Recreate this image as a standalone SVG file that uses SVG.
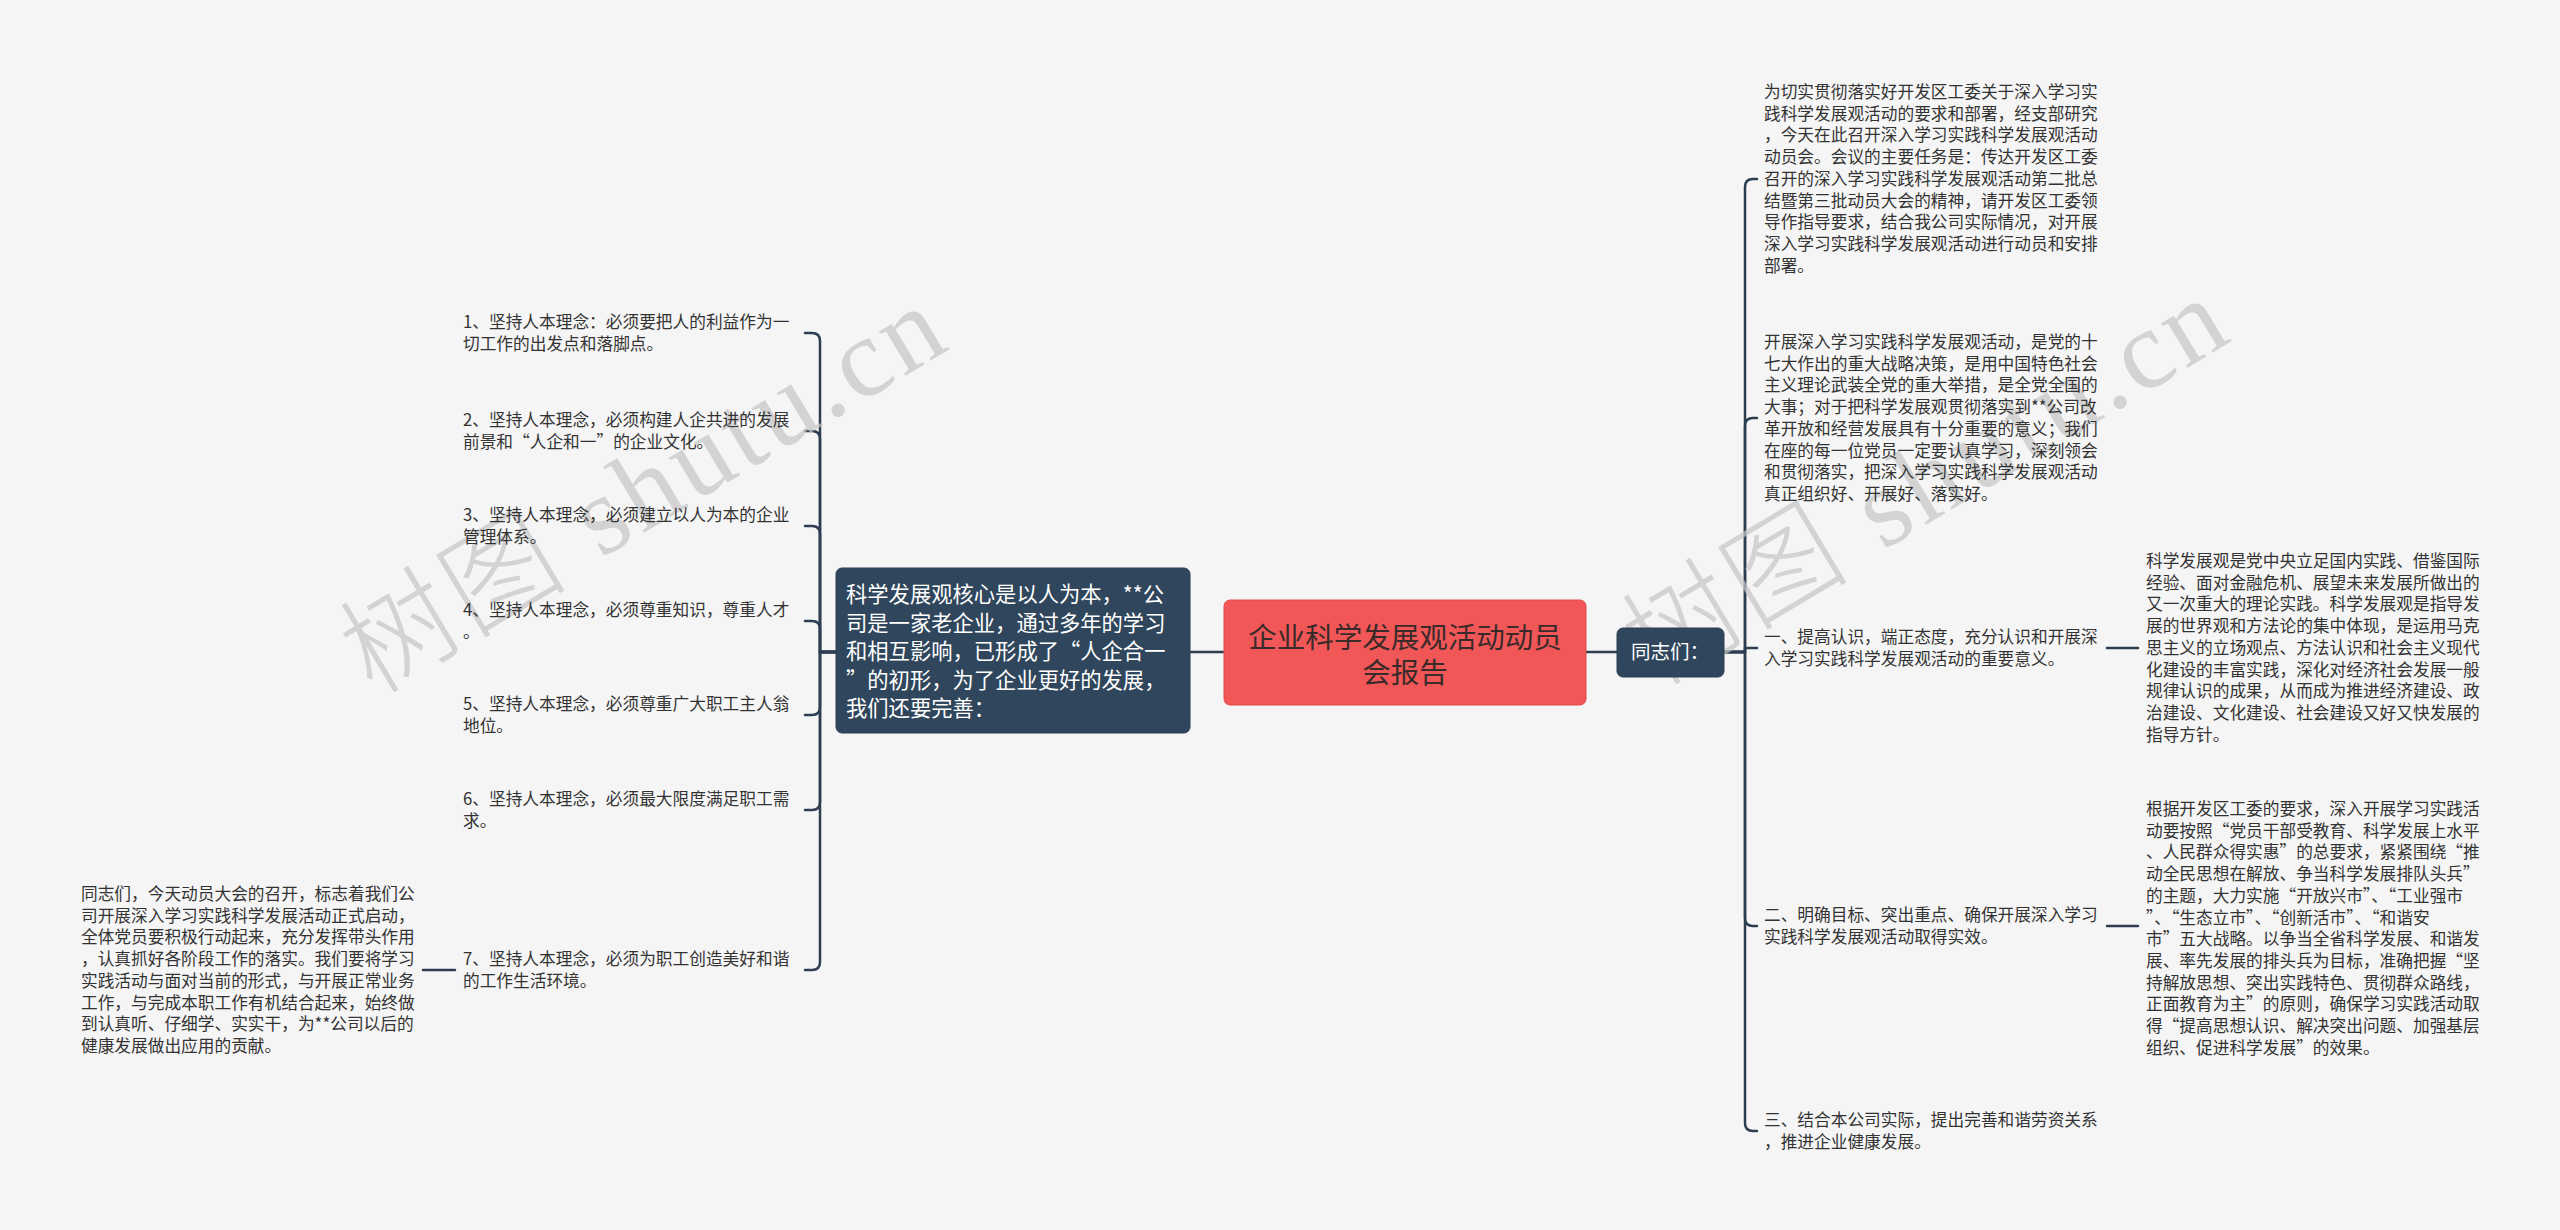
<svg xmlns="http://www.w3.org/2000/svg" width="2560" height="1230" viewBox="0 0 2560 1230">
<style>
.t{font-family:"Noto Sans CJK SC","Liberation Sans",sans-serif;font-size:16.7px;fill:#333333}
.w{font-family:"Noto Sans CJK SC","Liberation Sans",sans-serif;fill:#ffffff}
.dk{fill:#2f465c;stroke:#2a3f53;stroke-width:1}
.ln{fill:none;stroke:#2c3e50;stroke-width:2.5;stroke-linecap:round;stroke-linejoin:round}
.wm{font-family:"Liberation Serif","Noto Sans CJK SC",serif;font-size:112px;font-weight:300;fill:#c6c6c6;opacity:0.72}
</style>
<rect x="0" y="0" width="2560" height="1230" fill="#f5f5f5"/>

<g id="connectors">
<path class="ln" d="M1190 652 H1224"/>
<path class="ln" d="M1586 652 H1617"/>
<path class="ln" d="M836 652 H820 V341 Q820 333 812 333 H805"/>
<path class="ln" d="M836 652 H820 V439 Q820 431 812 431 H805"/>
<path class="ln" d="M836 652 H820 V534 Q820 526 812 526 H805"/>
<path class="ln" d="M836 652 H820 V629 Q820 621 812 621 H805"/>
<path class="ln" d="M836 652 H820 V707 Q820 715 812 715 H805"/>
<path class="ln" d="M836 652 H820 V802 Q820 810 812 810 H805"/>
<path class="ln" d="M836 652 H820 V962 Q820 970 812 970 H805"/>
<path class="ln" d="M455 970 H423"/>
<path class="ln" d="M1724 652 H1745 V187 Q1745 179 1753 179 H1757"/>
<path class="ln" d="M1724 652 H1745 V426 Q1745 418 1753 418 H1757"/>
<path class="ln" d="M1724 652 H1745 V648 H1757"/>
<path class="ln" d="M1724 652 H1745 V918 Q1745 926 1753 926 H1757"/>
<path class="ln" d="M1724 652 H1745 V1123 Q1745 1131 1753 1131 H1757"/>
<path class="ln" d="M2107 648 H2138"/>
<path class="ln" d="M2107 926 H2138"/>
</g>

<g id="watermarks">
<text class="wm" x="662" y="522" text-anchor="middle" transform="rotate(-31 662 522)" textLength="675">树图 shutu.cn</text>
<text class="wm" x="1944" y="514" text-anchor="middle" transform="rotate(-31 1944 514)" textLength="675">树图 shutu.cn</text>
</g>

<g id="root">
<rect x="1224" y="600" width="362" height="105" rx="6" fill="#f15757" stroke="#e24a4a" stroke-width="1"/>
<text x="1405" y="648" text-anchor="middle" style="font-family:'Noto Sans CJK SC','Liberation Sans',sans-serif;font-size:28.5px;fill:#3a2a2a">企业科学发展观活动动员</text>
<text x="1405" y="683" text-anchor="middle" style="font-family:'Noto Sans CJK SC','Liberation Sans',sans-serif;font-size:28.5px;fill:#3a2a2a">会报告</text>
</g>

<g id="node-left-main">
<rect class="dk" x="836" y="568" width="354" height="165" rx="6"/>
<text class="w" style="font-size:21.3px" x="846" y="602">科学发展观核心是以人为本，**公<tspan x="846" dy="28.5">司是一家老企业，通过多年的学习</tspan><tspan x="846" dy="28.5">和相互影响，已形成了“人企合一</tspan><tspan x="846" dy="28.5">”的初形，为了企业更好的发展，</tspan><tspan x="846" dy="28.5">我们还要完善：</tspan></text>
</g>

<g id="node-right-main">
<rect class="dk" x="1617" y="628" width="107" height="49" rx="6"/>
<text class="w" style="font-size:19.5px" x="1670" y="659" text-anchor="middle">同志们：</text>
</g>

<g id="item-l1"><text class="t" x="463" y="328">1、坚持人本理念：必须要把人的利益作为一<tspan x="463" dy="21.7">切工作的出发点和落脚点。</tspan></text></g>
<g id="item-l2"><text class="t" x="463" y="426">2、坚持人本理念，必须构建人企共进的发展<tspan x="463" dy="21.7">前景和“人企和一”的企业文化。</tspan></text></g>
<g id="item-l3"><text class="t" x="463" y="521">3、坚持人本理念，必须建立以人为本的企业<tspan x="463" dy="21.7">管理体系。</tspan></text></g>
<g id="item-l4"><text class="t" x="463" y="616">4、坚持人本理念，必须尊重知识，尊重人才<tspan x="463" dy="21.7">。</tspan></text></g>
<g id="item-l5"><text class="t" x="463" y="710">5、坚持人本理念，必须尊重广大职工主人翁<tspan x="463" dy="21.7">地位。</tspan></text></g>
<g id="item-l6"><text class="t" x="463" y="805">6、坚持人本理念，必须最大限度满足职工需<tspan x="463" dy="21.7">求。</tspan></text></g>
<g id="item-l7"><text class="t" x="463" y="965">7、坚持人本理念，必须为职工创造美好和谐<tspan x="463" dy="21.7">的工作生活环境。</tspan></text></g>

<g id="item-l7-note"><text class="t" x="81" y="900">同志们，今天动员大会的召开，标志着我们公<tspan x="81" dy="21.7">司开展深入学习实践科学发展活动正式启动，</tspan><tspan x="81" dy="21.7">全体党员要积极行动起来，充分发挥带头作用</tspan><tspan x="81" dy="21.7">，认真抓好各阶段工作的落实。我们要将学习</tspan><tspan x="81" dy="21.7">实践活动与面对当前的形式，与开展正常业务</tspan><tspan x="81" dy="21.7">工作，与完成本职工作有机结合起来，始终做</tspan><tspan x="81" dy="21.7">到认真听、仔细学、实实干，为**公司以后的</tspan><tspan x="81" dy="21.7">健康发展做出应用的贡献。</tspan></text></g>

<g id="item-r1"><text class="t" x="1764" y="98">为切实贯彻落实好开发区工委关于深入学习实<tspan x="1764" dy="21.7">践科学发展观活动的要求和部署，经支部研究</tspan><tspan x="1764" dy="21.7">，今天在此召开深入学习实践科学发展观活动</tspan><tspan x="1764" dy="21.7">动员会。会议的主要任务是：传达开发区工委</tspan><tspan x="1764" dy="21.7">召开的深入学习实践科学发展观活动第二批总</tspan><tspan x="1764" dy="21.7">结暨第三批动员大会的精神，请开发区工委领</tspan><tspan x="1764" dy="21.7">导作指导要求，结合我公司实际情况，对开展</tspan><tspan x="1764" dy="21.7">深入学习实践科学发展观活动进行动员和安排</tspan><tspan x="1764" dy="21.7">部署。</tspan></text></g>

<g id="item-r2"><text class="t" x="1764" y="348">开展深入学习实践科学发展观活动，是党的十<tspan x="1764" dy="21.7">七大作出的重大战略决策，是用中国特色社会</tspan><tspan x="1764" dy="21.7">主义理论武装全党的重大举措，是全党全国的</tspan><tspan x="1764" dy="21.7">大事；对于把科学发展观贯彻落实到**公司改</tspan><tspan x="1764" dy="21.7">革开放和经营发展具有十分重要的意义；我们</tspan><tspan x="1764" dy="21.7">在座的每一位党员一定要认真学习，深刻领会</tspan><tspan x="1764" dy="21.7">和贯彻落实，把深入学习实践科学发展观活动</tspan><tspan x="1764" dy="21.7">真正组织好、开展好、落实好。</tspan></text></g>

<g id="item-r3"><text class="t" x="1764" y="643">一、提高认识，端正态度，充分认识和开展深<tspan x="1764" dy="21.7">入学习实践科学发展观活动的重要意义。</tspan></text></g>
<g id="item-r4"><text class="t" x="1764" y="921">二、明确目标、突出重点、确保开展深入学习<tspan x="1764" dy="21.7">实践科学发展观活动取得实效。</tspan></text></g>
<g id="item-r5"><text class="t" x="1764" y="1126">三、结合本公司实际，提出完善和谐劳资关系<tspan x="1764" dy="21.7">，推进企业健康发展。</tspan></text></g>

<g id="item-r3-note"><text class="t" x="2146" y="567">科学发展观是党中央立足国内实践、借鉴国际<tspan x="2146" dy="21.7">经验、面对金融危机、展望未来发展所做出的</tspan><tspan x="2146" dy="21.7">又一次重大的理论实践。科学发展观是指导发</tspan><tspan x="2146" dy="21.7">展的世界观和方法论的集中体现，是运用马克</tspan><tspan x="2146" dy="21.7">思主义的立场观点、方法认识和社会主义现代</tspan><tspan x="2146" dy="21.7">化建设的丰富实践，深化对经济社会发展一般</tspan><tspan x="2146" dy="21.7">规律认识的成果，从而成为推进经济建设、政</tspan><tspan x="2146" dy="21.7">治建设、文化建设、社会建设又好又快发展的</tspan><tspan x="2146" dy="21.7">指导方针。</tspan></text></g>

<g id="item-r4-note"><text class="t" x="2146" y="815">根据开发区工委的要求，深入开展学习实践活<tspan x="2146" dy="21.7">动要按照“党员干部受教育、科学发展上水平</tspan><tspan x="2146" dy="21.7">、人民群众得实惠”的总要求，紧紧围绕“推</tspan><tspan x="2146" dy="21.7">动全民思想在解放、争当科学发展排队头兵”</tspan><tspan x="2146" dy="21.7">的主题，大力实施“开放兴市”、“工业强市</tspan><tspan x="2146" dy="21.7">”、“生态立市”、“创新活市”、“和谐安</tspan><tspan x="2146" dy="21.7">市”五大战略。以争当全省科学发展、和谐发</tspan><tspan x="2146" dy="21.7">展、率先发展的排头兵为目标，准确把握“坚</tspan><tspan x="2146" dy="21.7">持解放思想、突出实践特色、贯彻群众路线，</tspan><tspan x="2146" dy="21.7">正面教育为主”的原则，确保学习实践活动取</tspan><tspan x="2146" dy="21.7">得“提高思想认识、解决突出问题、加强基层</tspan><tspan x="2146" dy="21.7">组织、促进科学发展”的效果。</tspan></text></g>
</svg>
